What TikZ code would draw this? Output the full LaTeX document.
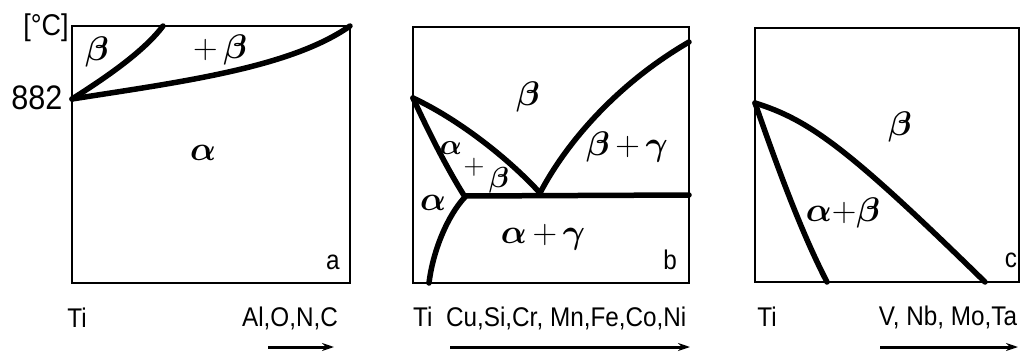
\documentclass[tikz,border=0pt]{standalone}
\usepackage{fontspec}
\setmainfont[FakeStretch=0.9]{Liberation Sans}
\usepackage{amsmath,bm}
\usepackage{tikz}
\usetikzlibrary{arrows.meta}

\tikzset{
  frame/.style={line width=2.6pt},
  phase/.style={line width=5.5pt,line cap=round,line join=round},
  lbl/.style={font=\fontsize{27}{30}\selectfont,inner sep=0pt},
  grk/.style={font=\Huge,scale=1.37,transform shape,inner sep=0pt},
  grksmall/.style={grk,scale=0.85},
  axarrow/.style={line width=3pt,-{Stealth[length=12pt,width=8pt]}}
}

\begin{document}
\begin{tikzpicture}[x=1pt,y=-1pt]
\useasboundingbox (0,0) rectangle (1022,351);
% panel a
\draw[frame] (72,26) rectangle (350,283);
\draw[phase] (72,99) .. controls (110,75) and (145,50) .. (163,26);
\draw[phase] (72,99) .. controls (180,82) and (290,68) .. (350,26);
\node[font=\fontsize{30}{34}\selectfont,inner sep=0pt] (unit) at (46,28) {[°C]};
\node[font=\fontsize{34}{36}\selectfont,inner sep=0pt] (tbeta) at (37,98) {882};
\node[grk] (a-beta) at (97,52) {$\bm\beta$};
\node[grk] (a-ab) at (220,50) {$+\,\bm\beta$};
\node[grk] (a-alpha) at (203,153) {$\bm\alpha$};
\node[lbl] (a-tag) at (333,262) {a};
\node[lbl] (a-ti) at (77,318) {Ti};
\node[lbl] (a-el) at (290,318) {Al,O,N,C};
\coordinate (a-s) at (268,347); \coordinate (a-e) at (334,347);
\draw[axarrow] (a-s) -- (a-e);
% panel b
\draw[frame] (413,27) rectangle (689,283);
\draw[phase] (413,98) .. controls (460,120) and (510,160) .. (540,193);
\draw[phase] (413,98) .. controls (430,135) and (448,170) .. (465,197);
\draw[phase] (465,197) .. controls (448,215) and (433,250) .. (429,283);
\draw[phase] (465,196) -- (689,195);
\draw[phase] (540,193) .. controls (565,145) and (615,85) .. (689,42);
\node[grk] (b-beta) at (528,97) {$\bm\beta$};
\node[grk] (b-bg) at (627,147) {$\bm\beta\,{+}\,\bm\gamma$};
\node[grksmall] (b-ab1) at (451,148) {$\bm\alpha$};
\node[grksmall] (b-ab2) at (474,167) {$+$};
\node[grksmall] (b-ab3) at (499,180) {$\bm\beta$};
\node[grk] (b-alpha) at (433,203) {$\bm\alpha$};
\node[grk] (b-ag) at (543,237) {$\bm\alpha\,{+}\,\bm\gamma$};
\node[lbl] (b-tag) at (670,260) {b};
\node[lbl,anchor=west] (b-el) at (413,318) {Ti\ \ Cu,Si,Cr, Mn,Fe,Co,Ni};
\coordinate (b-s) at (450,347); \coordinate (b-e) at (690,347);
\draw[axarrow] (b-s) -- (b-e);
% panel c
\draw[frame] (755,28) rectangle (1019,282);
\draw[phase] (755,103) .. controls (775,160) and (800,230) .. (827,282);
\draw[phase] (755,103) .. controls (810,120) and (850,150) .. (985,282);
\node[grk] (c-beta) at (900,127) {$\bm\beta$};
\node[grk] (c-ab) at (843,213) {$\bm\alpha{+}\bm\beta$};
\node[lbl] (c-tag) at (1011,260) {c};
\node[lbl] (c-ti) at (767,317) {Ti};
\node[lbl] (c-el) at (948,317) {V, Nb, Mo,Ta};
\coordinate (c-s) at (880,347); \coordinate (c-e) at (1018,347);
\draw[axarrow] (c-s) -- (c-e);
\end{tikzpicture}
\end{document}
